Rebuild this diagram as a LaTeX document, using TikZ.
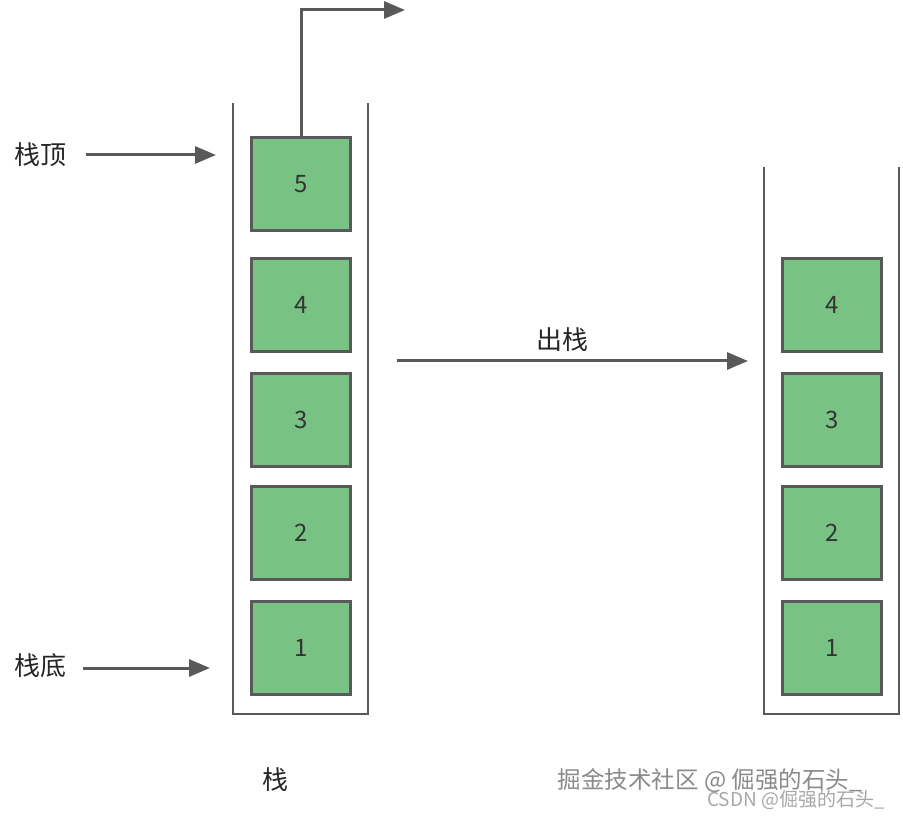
\documentclass[tikz,border=0pt]{standalone}
\usepackage{fontspec}
\setmainfont{Noto Sans CJK SC}
\usetikzlibrary{arrows.meta}
\definecolor{edge}{HTML}{595959}
\definecolor{boxfill}{HTML}{78C284}
\definecolor{wm}{HTML}{8A8A8A}
\tikzset{
  cell/.style={draw=edge, line width=3.2pt, fill=boxfill, minimum width=99pt, minimum height=93pt, inner sep=0pt, font=\fontsize{24pt}{28pt}\selectfont, text=black!80},
  wall/.style={draw=edge, line width=2.8pt},
  conn/.style={draw=edge, line width=3pt, -{Triangle[length=21pt,width=17pt]}},
  lbl/.style={font=\fontsize{26pt}{30pt}\selectfont, text=black!85, inner sep=0pt},
}
\begin{document}
\begin{tikzpicture}[x=1pt,y=-1pt]
\useasboundingbox (0,0) rectangle (903,818);
% left container
\draw[wall] (233,103) -- (233,714) -- (368,714) -- (368,103);
% right container
\draw[wall] (764,167) -- (764,714) -- (899,714) -- (899,167);
% left cells
\node[cell] (l5) at (301,184) {5};
\node[cell] (l4) at (301,305) {4};
\node[cell] (l3) at (301,420) {3};
\node[cell] (l2) at (301,533) {2};
\node[cell] (l1) at (301,648) {1};
% right cells
\node[cell] (r4) at (832,305) {4};
\node[cell] (r3) at (832,420) {3};
\node[cell] (r2) at (832,533) {2};
\node[cell] (r1) at (832,648) {1};
% labels
\node[lbl] (top) at (40,155) {栈顶};
\node[lbl] (bot) at (40,666) {栈底};
\node[lbl] (pop) at (562,340) {出栈};
\node[lbl] (stk) at (275,780) {栈};
\coordinate (topend) at (216,155);
\coordinate (botend) at (210,668);
\coordinate (popA) at (397,361);
\coordinate (popB) at (748,361);
\coordinate (out) at (405,10);
% connectors
\draw[conn] (86,155) -- (topend);
\draw[conn] (83,668) -- (botend);
\draw[conn] (popA) -- (popB);
\draw[conn] (l5.north) |- (out);
% watermark
\node[font=\fontsize{23.5pt}{27pt}\selectfont, text=wm, inner sep=0pt] (wm1) at (710,781) {掘金技术社区 @ 倔强的石头\_};
\node[font=\fontsize{19pt}{22pt}\selectfont, text=wm!75, inner sep=0pt] (wm2) at (796,800) {CSDN @倔强的石头\_};
\end{tikzpicture}
\end{document}
